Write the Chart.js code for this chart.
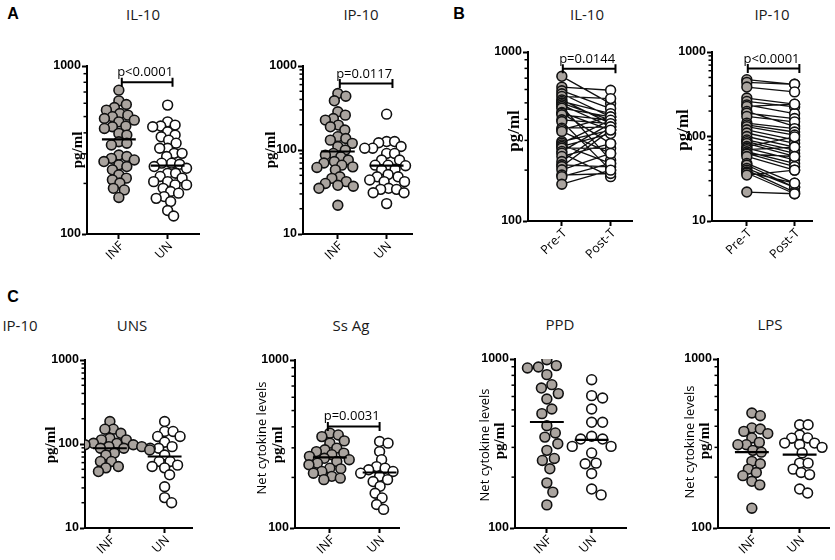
<!DOCTYPE html>
<html>
<head>
<meta charset="utf-8">
<script src="https://cdn.jsdelivr.net/npm/chart.js@4.4.0/dist/chart.umd.min.js"></script>
<style>
body { margin: 0; background: #fff; width: 835px; height: 560px; overflow: hidden; position: relative; font-family: 'Open Sans', sans-serif; }
canvas { position: absolute; }
.t { position: absolute; transform: translate(-50%, -50%); white-space: nowrap; font-size: 15px; color: #1a1a1a; }
.L { font-family: 'Liberation Sans', Arial, sans-serif; font-weight: bold; font-size: 16px; color: #000; }
</style>
</head>
<body>
<div class="t L" style="left:13px;top:14px">A</div>
<div class="t" style="left:143px;top:14px">IL-10</div>
<div class="t" style="left:361px;top:14px">IP-10</div>
<div class="t L" style="left:459px;top:14px">B</div>
<div class="t" style="left:587px;top:14px">IL-10</div>
<div class="t" style="left:772px;top:14px">IP-10</div>
<div class="t L" style="left:13px;top:297px">C</div>
<div class="t" style="left:20px;top:325px">IP-10</div>
<div class="t" style="left:132px;top:325px">UNS</div>
<div class="t" style="left:351px;top:325px">Ss Ag</div>
<div class="t" style="left:560px;top:324px">PPD</div>
<div class="t" style="left:770px;top:324px">LPS</div>
<script>
// tick labels
const groupLabels = ['INF', 'UN'];
const pairLabels = ['Pre-T', 'Post-T'];

// A: IL-10 / IP-10, infected vs uninfected (pg/ml)
const il10Inf = [718, 620, 590, 566, 546, 521, 510, 499, 487, 476, 465, 439, 435, 425, 397, 388, 354, 347, 339, 295, 289, 282, 276, 270, 258, 252, 241, 225, 215, 210, 201, 187, 183, 165];
const il10Un = [585, 465, 445, 439, 435, 406, 388, 379, 362, 347, 324, 324, 302, 302, 289, 264, 264, 260, 252, 246, 230, 230, 220, 215, 205, 205, 196, 196, 187, 179, 175, 167, 163, 156, 138, 128];
const il10Lines = [366, 255];
const ip10Inf = [470, 437, 385, 285, 260, 237, 227, 198, 189, 173, 144, 137, 131, 120, 110, 100, 91, 87, 83, 76, 73, 70, 66, 63, 62, 58, 48, 46, 42, 40, 38, 37, 35, 22];
const ip10Un = [267, 126, 126, 122, 110, 105, 105, 91, 91, 76, 76, 66, 66, 65, 58, 59, 51, 48, 48, 44, 42, 42, 35, 34, 34, 31, 31, 23];
const ip10Lines = [96, 65];

// B: pre / post treatment, paired
const il10Pre = [718, 620, 590, 566, 546, 521, 510, 499, 487, 476, 465, 439, 435, 425, 397, 388, 354, 347, 339, 295, 289, 282, 276, 270, 258, 252, 241, 225, 215, 210, 201, 187, 183, 165];
const il10Post = [495, 594, 463, 413, 530, 377, 432, 395, 361, 229, 413, 345, 287, 395, 377, 200, 361, 413, 251, 345, 395, 219, 329, 269, 377, 183, 287, 361, 209, 345, 251, 191, 219, 200];
const ip10Pre = [470, 437, 385, 285, 260, 237, 227, 198, 189, 173, 144, 137, 131, 120, 110, 100, 91, 87, 83, 76, 73, 70, 66, 63, 62, 58, 48, 46, 42, 40, 38, 37, 35, 22];
const ip10Post = [415, 415, 337, 241, 224, 187, 241, 132, 163, 149, 124, 113, 104, 91, 83, 75, 69, 63, 58, 99, 53, 75, 48, 44, 58, 40, 28, 25, 25, 22, 28, 21, 40, 21];

// C: IP-10 by stimulus
const unsInf = [185, 150, 150, 134, 117, 112, 112, 102, 102, 98, 98, 93, 93, 89, 89, 85, 85, 78, 74, 62, 62, 54, 52, 47];
const unsUn = [185, 141, 141, 123, 123, 105, 93, 89, 89, 74, 62, 62, 56, 54, 52, 43, 31, 23, 20];
const unsLines = [89, 71];
const ssInf = [367, 358, 350, 330, 320, 299, 292, 285, 279, 273, 267, 260, 255, 249, 243, 238, 227, 225, 217, 212, 203, 198, 194];
const ssUn = [327, 320, 285, 255, 232, 227, 222, 217, 212, 203, 194, 189, 177, 161, 151, 138, 129];
const ssLines = [263, 214];
const ppdInf = [990, 914, 897, 885, 808, 705, 673, 624, 580, 506, 475, 403, 365, 345, 315, 288, 258, 251, 224, 185, 163, 137];
const ppdUn = [754, 607, 588, 506, 422, 422, 349, 336, 336, 304, 304, 278, 242, 240, 210, 170, 157];
const ppdLines = [424, 332];
const lpsInf = [479, 462, 391, 385, 373, 362, 341, 321, 311, 311, 288, 281, 248, 240, 223, 213, 204, 189, 180, 131];
const lpsUn = [408, 408, 355, 341, 340, 318, 318, 311, 300, 278, 242, 242, 223, 213, 207, 170, 161];
const lpsLines = [281, 272];

const pTexts = ['p<0.0001', 'p=0.0117', 'p=0.0144', 'p<0.0001', 'p=0.0031'];
const pLevels = [800, 617, 797, 636, 402];

const GRAY = '#aaa49f';
const SERIF15 = 'bold 15px "Liberation Serif", "Times New Roman", serif';
const SERIF17 = 'bold 17px "Liberation Serif", "Times New Roman", serif';
const SANS13 = '13px "Open Sans", sans-serif';
const NCL = 'Net cytokine levels';

const panels = [
    { kind: 'group', ticks: groupLabels, series: [il10Inf, il10Un], lines: il10Lines, min: 100, max: 1000,
      axisX: 87, xEnd: 200, yTop: 66, yBot: 234, cats: [119, 168], gap: 8,
      titles: [{ text: 'pg/ml', font: SERIF15, x: 78, y: 150 }],
      bracket: { text: pTexts[0], value: pLevels[0], x: [1.06, 2.1] } },
    { kind: 'group', ticks: groupLabels, series: [ip10Inf, ip10Un], lines: ip10Lines, min: 10, max: 1000,
      axisX: 303, xEnd: 413, yTop: 66, yBot: 234, cats: [338, 387], gap: 8,
      titles: [{ text: 'pg/ml', font: SERIF15, x: 271, y: 150 }],
      bracket: { text: pTexts[1], value: pLevels[1], x: [1.04, 2.12] } },
    { kind: 'pair', ticks: pairLabels, series: [il10Pre, il10Post], min: 100, max: 1000,
      axisX: 528, xEnd: 633, yTop: 52, yBot: 221, cats: [562, 611],
      titles: [{ text: 'pg/ml', font: SERIF17, x: 515, y: 131 }],
      bracket: { text: pTexts[2], value: pLevels[2], x: [1.02, 2.1] } },
    { kind: 'pair', ticks: pairLabels, series: [ip10Pre, ip10Post], min: 10, max: 1000,
      axisX: 712, xEnd: 813, yTop: 52, yBot: 221, cats: [747, 795],
      titles: [{ text: 'pg/ml', font: SERIF17, x: 684, y: 130 }],
      bracket: { text: pTexts[3], value: pLevels[3], x: [1.02, 2.1] } },
    { kind: 'group', ticks: groupLabels, series: [unsInf, unsUn], lines: unsLines, min: 10, max: 1000,
      axisX: 85, xEnd: 193, yTop: 360, yBot: 528, cats: [110, 165], gap: 8.3,
      titles: [{ text: 'pg/ml', font: SERIF15, x: 51, y: 445 }] },
    { kind: 'group', ticks: groupLabels, series: [ssInf, ssUn], lines: ssLines, min: 100, max: 1000,
      axisX: 295, xEnd: 400, yTop: 360, yBot: 528, cats: [330, 380], gap: 8.3,
      titles: [{ text: NCL, font: SANS13, x: 262, y: 438 }, { text: 'pg/ml', font: SERIF15, x: 278, y: 445 }],
      bracket: { text: pTexts[4], value: pLevels[4], x: [0.96, 2.0] } },
    { kind: 'group', ticks: groupLabels, series: [ppdInf, ppdUn], lines: ppdLines, min: 100, max: 1000,
      axisX: 515, xEnd: 627, yTop: 359, yBot: 528, cats: [547, 592], gap: 11,
      titles: [{ text: NCL, font: SANS13, x: 485, y: 445 }, { text: 'pg/ml', font: SERIF15, x: 500, y: 441 }] },
    { kind: 'group', ticks: groupLabels, series: [lpsInf, lpsUn], lines: lpsLines, min: 100, max: 1000,
      axisX: 718, xEnd: 830, yTop: 359, yBot: 528, cats: [752, 800], gap: 8.5,
      titles: [{ text: NCL, font: SANS13, x: 690, y: 442 }, { text: 'pg/ml', font: SERIF15, x: 705, y: 441 }] }
];

// minor log ticks, rotated axis texts, significance brackets
const extras = {
    id: 'extras',
    afterDraw(chart, args, o) {
        const ctx = chart.ctx, ys = chart.scales.y, xs = chart.scales.x;
        const left = chart.chartArea.left, bottom = chart.chartArea.bottom;
        ctx.save();
        ctx.strokeStyle = '#000';
        ctx.lineWidth = 1.5;
        for (let d = ys.min; d < ys.max; d *= 10) {
            for (let k = 2; k <= 9; k++) {
                const py = ys.getPixelForValue(d * k);
                ctx.beginPath(); ctx.moveTo(left - 3.5, py); ctx.lineTo(left, py); ctx.stroke();
            }
        }
        ctx.fillStyle = '#000';
        (o.titles || []).forEach(t => {
            ctx.save();
            ctx.translate(t.x - o.ox, t.y - o.oy);
            ctx.rotate(-Math.PI / 2);
            ctx.font = t.font;
            ctx.textAlign = 'center';
            ctx.textBaseline = 'middle';
            ctx.fillText(t.text, 0, 0);
            ctx.restore();
        });
        // category labels at 45 degrees, ending under their tick
        (o.labels || []).forEach((lab, i) => {
            ctx.save();
            ctx.translate(xs.getPixelForValue(i + 1) + 3, bottom + 10);
            ctx.rotate(-Math.PI / 4);
            ctx.font = '12.5px "Open Sans", sans-serif';
            ctx.textAlign = 'right';
            ctx.textBaseline = 'middle';
            ctx.fillText(lab, 0, 0);
            ctx.restore();
        });
        if (o.bracket) {
            const b = o.bracket;
            const py = ys.getPixelForValue(b.value);
            const x1 = xs.getPixelForValue(b.x[0]), x2 = xs.getPixelForValue(b.x[1]);
            ctx.lineWidth = 2;
            ctx.beginPath();
            ctx.moveTo(x1, py); ctx.lineTo(x2, py);
            ctx.moveTo(x1, py - 4.5); ctx.lineTo(x1, py + 4.5);
            ctx.moveTo(x2, py - 4.5); ctx.lineTo(x2, py + 4.5);
            ctx.stroke();
            ctx.font = SANS13;
            ctx.textAlign = 'center';
            ctx.textBaseline = 'alphabetic';
            ctx.fillText(b.text, (x1 + x2) / 2 - 2, py - 6);
        }
        ctx.restore();
    }
};
Chart.register(extras);

// spread points sideways so they don't pile up (pixel-space beeswarm)
function swarm(values, p, unitPx) {
    const lmax = Math.log10(p.max), lmin = Math.log10(p.min);
    const ys = values.map(v => p.yTop + (lmax - Math.log10(v)) / (lmax - lmin) * (p.yBot - p.yTop));
    const idx = values.map((_, i) => i).sort((a, b) => ys[a] - ys[b]);
    const placed = [];
    const off = new Array(values.length).fill(0);
    idx.forEach(i => {
        for (let s = 0; s < 400; s++) {
            const dx = (s % 2 ? 1 : -1) * Math.ceil(s / 2) * 0.5;
            if (placed.every(q => Math.hypot(q.dx - dx, q.y - ys[i]) >= p.gap)) {
                off[i] = dx;
                placed.push({ dx: dx, y: ys[i] });
                break;
            }
        }
    });
    return off.map(d => d / unitPx);
}

function pointSet(data, fill) {
    return { data: data, showLine: false, pointRadius: 4.9, pointHoverRadius: 4.9,
             backgroundColor: fill, borderColor: '#111', borderWidth: 1.6, order: 1 };
}

panels.forEach(p => {
    const unitPx = p.cats[1] - p.cats[0];
    const cl = Math.max(0, p.axisX - 92), ct = p.yTop - 25;
    const cw = p.xEnd + 6 - cl, ch = p.yBot + 48 - ct;
    const cv = document.createElement('canvas');
    cv.width = cw; cv.height = ch;
    cv.style.left = cl + 'px'; cv.style.top = ct + 'px';
    document.body.appendChild(cv);

    let datasets = [];
    if (p.kind === 'group') {
        const hw = 17 / unitPx;
        p.lines.forEach((m, g) => {
            datasets.push({ data: [{ x: g + 1 - hw, y: m }, { x: g + 1 + hw, y: m }], showLine: true,
                            pointRadius: 0, borderColor: '#000', borderWidth: 2.2, order: 0 });
        });
        p.series.forEach((vals, g) => {
            const off = swarm(vals, p, unitPx);
            datasets.push(pointSet(vals.map((v, i) => ({ x: g + 1 + off[i], y: v })), g === 0 ? GRAY : '#fff'));
        });
    } else {
        const pre = p.series[0], post = p.series[1];
        const links = [];
        pre.forEach((v, i) => {
            links.push({ x: 1, y: v }, { x: 2, y: post[i] }, { x: 1.5, y: null });
        });
        datasets.push({ data: links, showLine: true, spanGaps: false, pointRadius: 0,
                        borderColor: '#111', borderWidth: 1.3, order: 2 });
        datasets.push(pointSet(pre.map(v => ({ x: 1, y: v })), GRAY));
        datasets.push(pointSet(post.map(v => ({ x: 2, y: v })), '#fff'));
    }

    new Chart(cv, {
        type: 'scatter',
        data: { datasets: datasets },
        options: {
            responsive: false,
            animation: false,
            events: [],
            layout: { padding: { top: p.yTop - ct, right: cw - (p.xEnd - cl), left: 0, bottom: 0 } },
            plugins: {
                legend: { display: false },
                tooltip: { enabled: false },
                extras: { titles: p.titles, bracket: p.bracket, labels: p.ticks, ox: cl, oy: ct }
            },
            scales: {
                x: {
                    type: 'linear',
                    min: 1 - (p.cats[0] - p.axisX) / unitPx,
                    max: 2 + (p.xEnd - p.cats[1]) / unitPx,
                    afterBuildTicks: s => { s.ticks = [{ value: 1 }, { value: 2 }]; },
                    afterFit: s => { s.height = ch - (p.yBot - ct); },
                    border: { display: true, color: '#000', width: 2 },
                    grid: { drawOnChartArea: false, drawTicks: true, tickLength: 5, tickWidth: 2, tickColor: '#000' },
                    ticks: { display: false }
                },
                y: {
                    type: 'logarithmic',
                    min: p.min, max: p.max,
                    afterBuildTicks: s => {
                        const t = [];
                        for (let v = p.min; v <= p.max; v *= 10) t.push({ value: v, major: true });
                        s.ticks = t;
                    },
                    afterFit: s => { s.width = p.axisX - cl; },
                    border: { display: true, color: '#000', width: 2 },
                    grid: { drawOnChartArea: false, drawTicks: true, tickLength: 5, tickWidth: 2, tickColor: '#000' },
                    ticks: {
                        padding: 1, color: '#000',
                        font: { family: '"Liberation Sans", Arial, sans-serif', size: 12.5, weight: 'bold' },
                        callback: v => String(v)
                    }
                }
            }
        }
    });
});
</script>
</body>
</html>
